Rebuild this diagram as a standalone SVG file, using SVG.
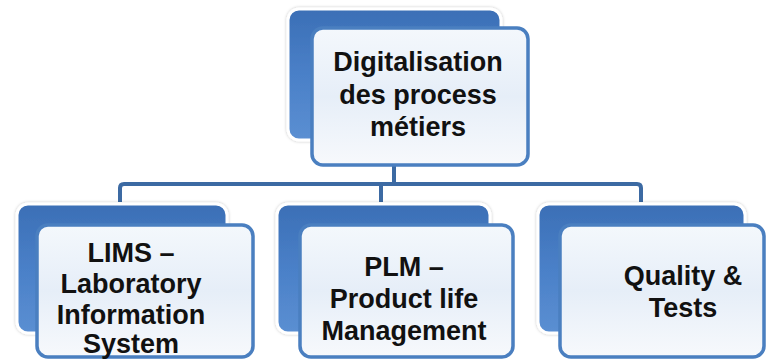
<svg xmlns="http://www.w3.org/2000/svg" width="767" height="360" viewBox="0 0 767 360">
<defs>
<linearGradient id="gBack" x1="0" y1="0" x2="0" y2="1">
<stop offset="0" stop-color="#3b6fb6"/>
<stop offset="0.5" stop-color="#4a80c8"/>
<stop offset="1" stop-color="#5b8fd2"/>
</linearGradient>
<linearGradient id="gFront" x1="0" y1="0" x2="0" y2="1">
<stop offset="0" stop-color="#f4f8fc"/>
<stop offset="0.5" stop-color="#e6eef8"/>
<stop offset="1" stop-color="#f7f9fc"/>
</linearGradient>
<filter id="sh" x="-10%" y="-10%" width="120%" height="120%">
<feDropShadow dx="0" dy="0" stdDeviation="1.5" flood-color="#000" flood-opacity="0.25"/>
</filter>
</defs>
<style>
.back{fill:url(#gBack);stroke:#ffffff;stroke-width:3;filter:url(#sh)}
.front{fill:url(#gFront);stroke:#4a7fc0;stroke-width:3.5}
.conn{fill:none;stroke:#3c6aa3;stroke-width:4;stroke-linejoin:round}
text{font-family:"Liberation Sans",Arial,sans-serif;font-weight:bold;font-size:27px;fill:#111;text-anchor:middle}
</style>
<rect width="767" height="360" fill="#ffffff"/>
<g id="connectors">
<path class="conn" d="M394,165 V184"/>
<path class="conn" d="M120,202 V188 Q120,184 124,184 H637 Q641,184 641,188 V202"/>
<path class="conn" d="M381,184 V202"/>
</g>
<g id="node-top">
<rect class="back" x="288" y="9" width="213" height="131" rx="11"/>
<rect class="front" x="312" y="28" width="216" height="137" rx="11"/>
<text x="418" y="71">Digitalisation</text>
<text x="418" y="104">des process</text>
<text x="418" y="136">métiers</text>
</g>
<g id="node-lims">
<rect class="back" x="17" y="204" width="210" height="129" rx="11"/>
<rect class="front" x="37" y="225" width="216" height="132" rx="11"/>
<text x="131" y="262">LIMS –</text>
<text x="131" y="293">Laboratory</text>
<text x="131" y="324">Information</text>
<text x="131" y="353">System</text>
</g>
<g id="node-plm">
<rect class="back" x="277" y="204" width="213" height="129" rx="11"/>
<rect class="front" x="300" y="225" width="213" height="132" rx="11"/>
<text x="404" y="276">PLM –</text>
<text x="404" y="308">Product life</text>
<text x="404" y="340">Management</text>
</g>
<g id="node-quality">
<rect class="back" x="538" y="204" width="207" height="129" rx="11"/>
<rect class="front" x="560" y="225" width="204" height="132" rx="11"/>
<text x="683" y="285">Quality &amp;</text>
<text x="683" y="317">Tests</text>
</g>
</svg>
